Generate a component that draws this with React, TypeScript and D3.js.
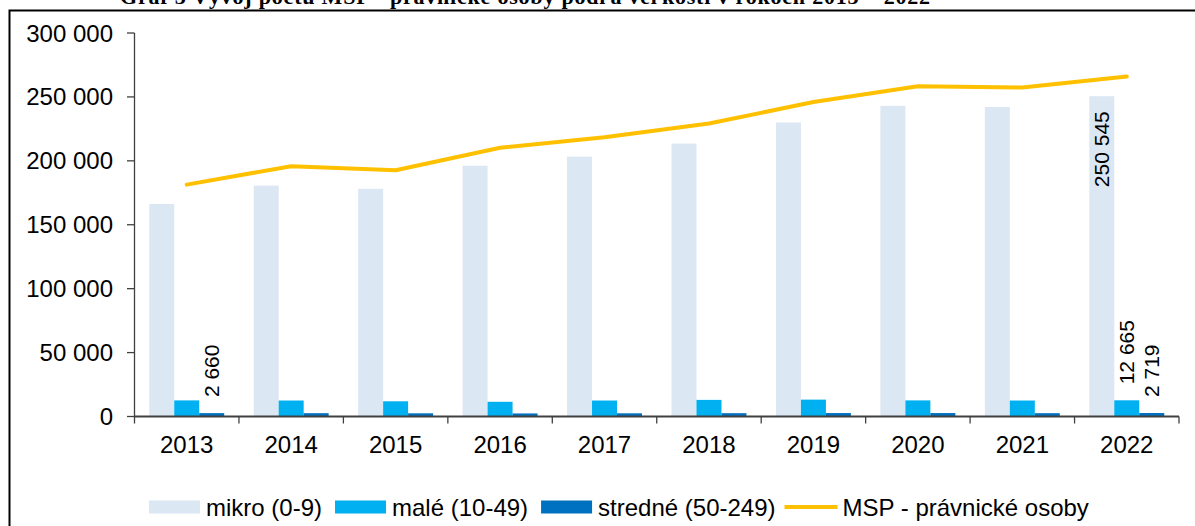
import React, { useEffect, useRef } from 'react';
import * as d3 from 'd3';

const years = ['2013', '2014', '2015', '2016', '2017', '2018', '2019', '2020', '2021', '2022'];
const mikro = [166200, 180600, 178100, 196200, 203300, 213500, 230000, 243000, 242100, 250545];
const male = [12600, 12500, 11900, 11500, 12500, 13000, 13200, 12600, 12500, 12665];
const stredne = [2660, 2600, 2500, 2400, 2500, 2600, 2700, 2700, 2600, 2719];
const mspTotal = [181400, 195800, 192600, 210200, 218500, 229200, 246000, 258400, 257300, 265929];
const yTicks = [0, 50000, 100000, 150000, 200000, 250000, 300000];

const seriesNames = ['mikro (0-9)', 'malé (10-49)', 'stredné (50-249)'];
const seriesColors = ['#DCE7F4', '#00B0F0', '#0070C0'];
const lineName = 'MSP - právnické osoby';
const lineColor = '#FFC000';

// which bars carry a value label: [series index, year index]
const labelled: [number, number][] = [[2, 0], [0, 9], [1, 9], [2, 9]];

const W = 1195;
const H = 526;
const FONT = '"Liberation Sans", Arial, sans-serif';

const fmt = (v: number) => d3.format(',')(v).replace(/,/g, ' ');

const App: React.FC = () => {
  const svgRef = useRef<SVGSVGElement>(null);

  useEffect(() => {
    if (!svgRef.current) return;
    const svg = d3.select(svgRef.current);
    svg.selectAll('*').remove();

    const x = d3.scaleBand<string>().domain(years).range([134.5, 1179]).padding(0);
    const inner = d3.scaleBand<number>().domain([0, 1, 2])
      .range([14.75, x.bandwidth() - 14.75]).padding(0);
    const y = d3.scaleLinear().domain([0, 300000]).range([416.5, 33]);

    // outer frame + title (cut off at the top, as in the source)
    svg.append('text')
      .attr('x', 120).attr('y', 4)
      .attr('font-family', '"Liberation Serif", "Times New Roman", serif')
      .attr('font-weight', 'bold').attr('font-size', 22)
      .attr('textLength', 810).attr('lengthAdjust', 'spacing')
      .text('Graf 3 Vývoj počtu MSP - právnické osoby podľa veľkosti v rokoch 2013 – 2022');
    svg.append('rect')
      .attr('x', 9.5).attr('y', 10.5).attr('width', W + 20).attr('height', H + 20)
      .attr('fill', 'none').attr('stroke', '#000').attr('stroke-width', 2);

    const series = [mikro, male, stredne];
    const gBars = svg.append('g');
    series.forEach((vals, si) => {
      gBars.selectAll(`rect.s${si}`)
        .data(vals)
        .join('rect')
        .attr('class', `s${si}`)
        .attr('x', (_, i) => (x(years[i]) as number) + (inner(si) as number))
        .attr('width', inner.bandwidth())
        .attr('y', d => y(d))
        .attr('height', d => y(0) - y(d))
        .attr('fill', seriesColors[si]);
    });

    // line
    const line = d3.line<number>()
      .x((_, i) => (x(years[i]) as number) + x.bandwidth() / 2)
      .y(d => y(d));
    svg.append('path')
      .attr('d', line(mspTotal) as string)
      .attr('fill', 'none')
      .attr('stroke', lineColor)
      .attr('stroke-width', 4)
      .attr('stroke-linecap', 'round')
      .attr('stroke-linejoin', 'round');

    // axes
    const gAxis = svg.append('g').attr('stroke', '#404040');
    gAxis.append('line')
      .attr('x1', 134.5).attr('x2', 134.5).attr('y1', y(300000)).attr('y2', y(0))
      .attr('stroke-width', 1.3);
    yTicks.forEach(t => {
      gAxis.append('line')
        .attr('x1', 127).attr('x2', 134.5).attr('y1', y(t)).attr('y2', y(t))
        .attr('stroke-width', 1.3);
      svg.append('text')
        .attr('x', 113).attr('y', y(t))
        .attr('text-anchor', 'end').attr('dominant-baseline', 'central')
        .attr('font-family', FONT).attr('font-size', 24).attr('fill', '#000')
        .text(fmt(t));
    });
    gAxis.append('line')
      .attr('x1', 134).attr('x2', 1179).attr('y1', y(0)).attr('y2', y(0))
      .attr('stroke-width', 2);
    [...years.map(yr => x(yr) as number), 1179].forEach(px => {
      gAxis.append('line')
        .attr('x1', px).attr('x2', px).attr('y1', y(0)).attr('y2', y(0) + 7)
        .attr('stroke-width', 1.3);
    });
    years.forEach(yr => {
      svg.append('text')
        .attr('x', (x(yr) as number) + x.bandwidth() / 2).attr('y', 453)
        .attr('text-anchor', 'middle')
        .attr('font-family', FONT).attr('font-size', 24).attr('fill', '#000')
        .text(yr);
    });

    // data labels (rotated)
    labelled.forEach(([si, yi]) => {
      const v = series[si][yi];
      const cx = (x(years[yi]) as number) + (inner(si) as number) + inner.bandwidth() / 2;
      const inside = si === 0;
      const ty = inside ? y(v) + 15 : y(v) - 16;
      svg.append('text')
        .attr('transform', `translate(${cx},${ty}) rotate(-90)`)
        .attr('text-anchor', inside ? 'end' : 'start')
        .attr('dominant-baseline', 'central')
        .attr('font-family', FONT).attr('font-size', 21).attr('fill', '#000')
        .text(fmt(v));
    });

    // legend
    const gLeg = svg.append('g');
    let lx = 149;
    const ly = 507;
    seriesNames.forEach((name, si) => {
      gLeg.append('rect')
        .attr('x', lx).attr('y', ly - 6.5).attr('width', 51).attr('height', 13)
        .attr('fill', seriesColors[si]);
      const t = gLeg.append('text')
        .attr('x', lx + 57).attr('y', ly)
        .attr('dominant-baseline', 'central')
        .attr('font-family', FONT).attr('font-size', 24).attr('fill', '#000')
        .text(name);
      lx += 57 + (t.node() as SVGTextElement).getComputedTextLength() + (si === 2 ? 9 : 13);
    });
    gLeg.append('line')
      .attr('x1', lx).attr('x2', lx + 53).attr('y1', ly).attr('y2', ly)
      .attr('stroke', lineColor).attr('stroke-width', 4);
    gLeg.append('text')
      .attr('x', lx + 58).attr('y', ly)
      .attr('dominant-baseline', 'central')
      .attr('font-family', FONT).attr('font-size', 24).attr('fill', '#000')
      .text(lineName);
  }, []);

  return (
    <div style={{ position: 'absolute', left: 0, top: 0, width: W, height: H, overflow: 'hidden', background: '#fff' }}>
      <svg ref={svgRef} width={W} height={H} style={{ display: 'block' }} />
    </div>
  );
};

export default App;
